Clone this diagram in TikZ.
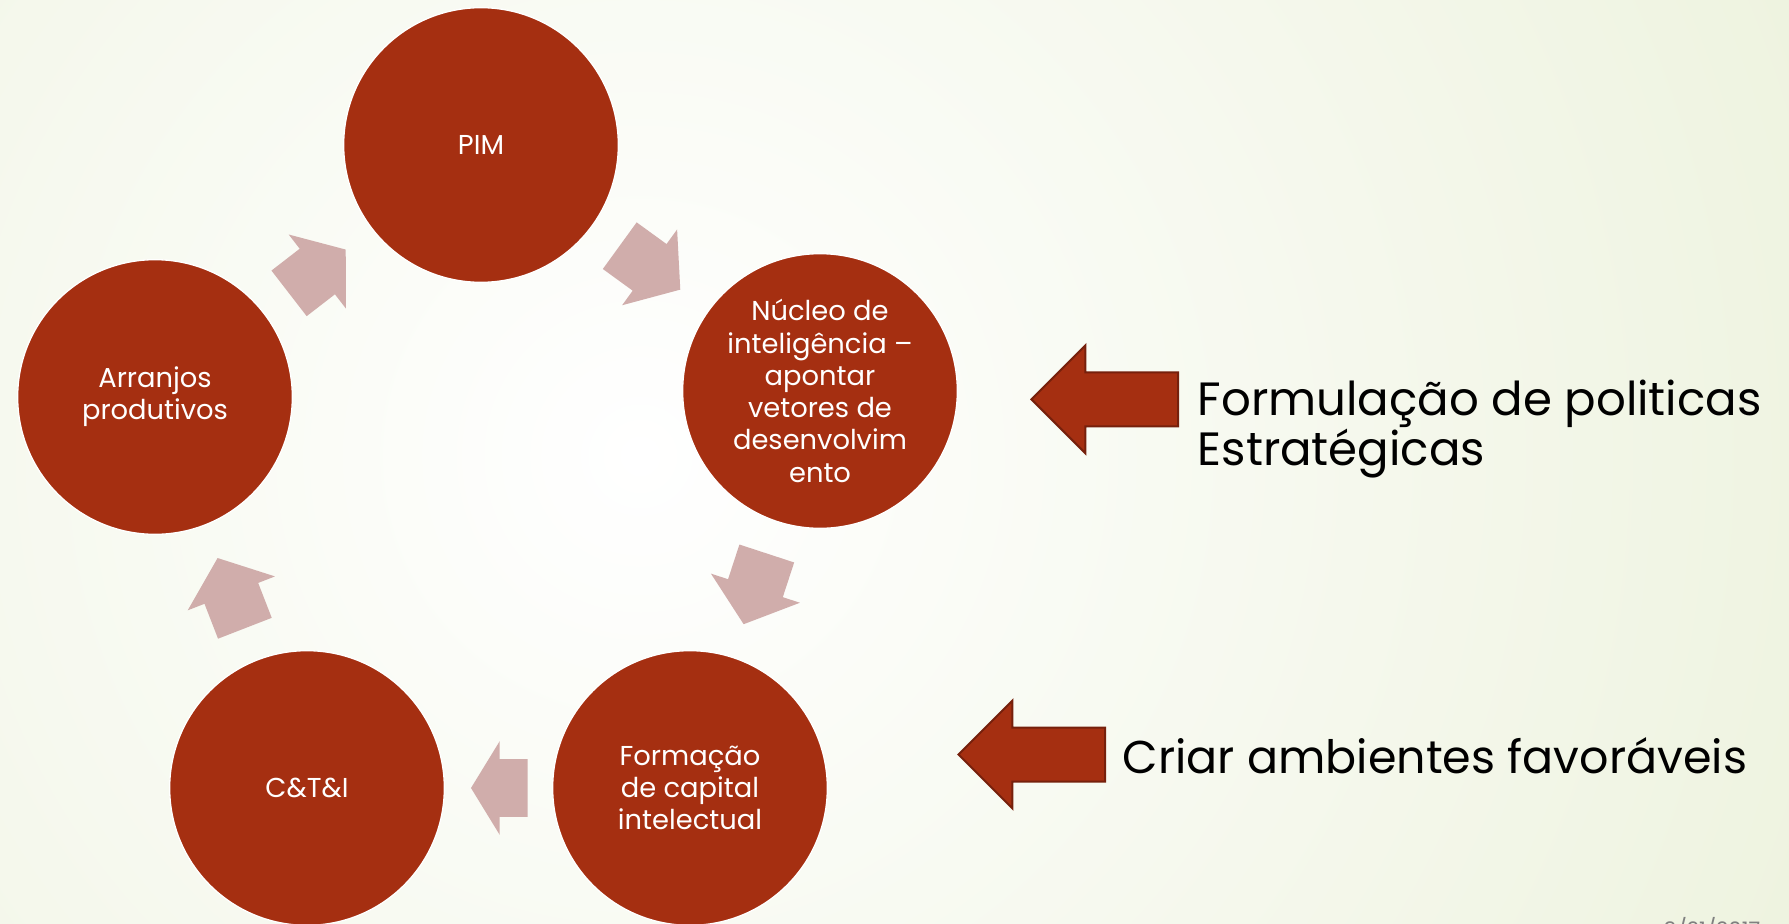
\documentclass[tikz,border=0pt]{standalone}
\usepackage{fontspec}
\setmainfont{Poppins}
\usetikzlibrary{shapes.arrows}

\definecolor{circred}{RGB}{165,47,17}
\definecolor{arrpink}{RGB}{208,173,171}
\definecolor{arredge}{RGB}{118,32,12}
\definecolor{bggreen}{RGB}{221,231,192}

\begin{document}
\begin{tikzpicture}[x = 0.75pt, y = -0.75pt,
    bub/.style = {circle, fill = circred, draw = white, line width = 1pt, minimum size = 206pt, inner sep = 0pt, text = white, align = center, font = \fontsize{20.5}{24.2}\selectfont},
    cyc/.style = {single arrow, fill = arrpink, pos = 0.76, anchor = tip, sloped, allow upside down, inner xsep = 0pt, inner ysep = 21.4pt, single arrow head extend = 13.5pt},
    bigarrow/.style = {single arrow, shape border rotate = 180, anchor = tip, fill = circred, draw = arredge, line width = 1.5pt, inner xsep = 0pt, inner ysep = 19.5pt, minimum height = 110pt, single arrow head extend = 20.25pt, single arrow tip angle = 90}]
\useasboundingbox (0,0) rectangle (1789,924);
\begin{scope}
  \clip (0,0) rectangle (1789,924);
  \shade[inner color = white, outer color = bggreen] (640,456) circle (2500);
\end{scope}

\draw (481,145) node[bub](c1){PIM}
    (820,391) node[bub](c2){Núcleo de\\inteligência –\\apontar\\vetores de\\desenvolvim\\ento}
    (690,788) node[bub](c3){Formação\\de capital\\intelectual}
    (307,788) node[bub](c4){C\&T\&I}
    (155,397) node[bub](c5){Arranjos\\produtivos};
    \path (c5) -- (c1) node[cyc, minimum height = 53.7pt, single arrow tip angle = 105](a1){};
    \path (c1) -- (c2) node[cyc, minimum height = 56.1pt, single arrow tip angle = 102](a2){};
    \path (c2) -- (c3) node[cyc, minimum height = 55.8pt, single arrow tip angle = 102](a3){};
    \path (c3) -- (c4) node[cyc, minimum height = 42.4pt, single arrow tip angle = 117](a4){};
    \path (c4) -- (c5) node[cyc, minimum height = 56.5pt, single arrow tip angle = 102](a5){};

\node[bigarrow](p1) at (1030,399.3){};
\node[bigarrow](p2) at (957,754.5){};
\node[anchor = base west, align = left, font = \fontsize{35}{37.5}\selectfont](t1) at (1193,465){Formulação de politicas\\Estratégicas};
\node[anchor = base west, font = \fontsize{34.5}{37.5}\selectfont](t2) at (1118,773){Criar ambientes favoráveis};
\node[anchor = north east, text = gray, font = \fontsize{16}{18}\selectfont](d1) at (1765,913){9/21/2017};
\end{tikzpicture}
\end{document}
